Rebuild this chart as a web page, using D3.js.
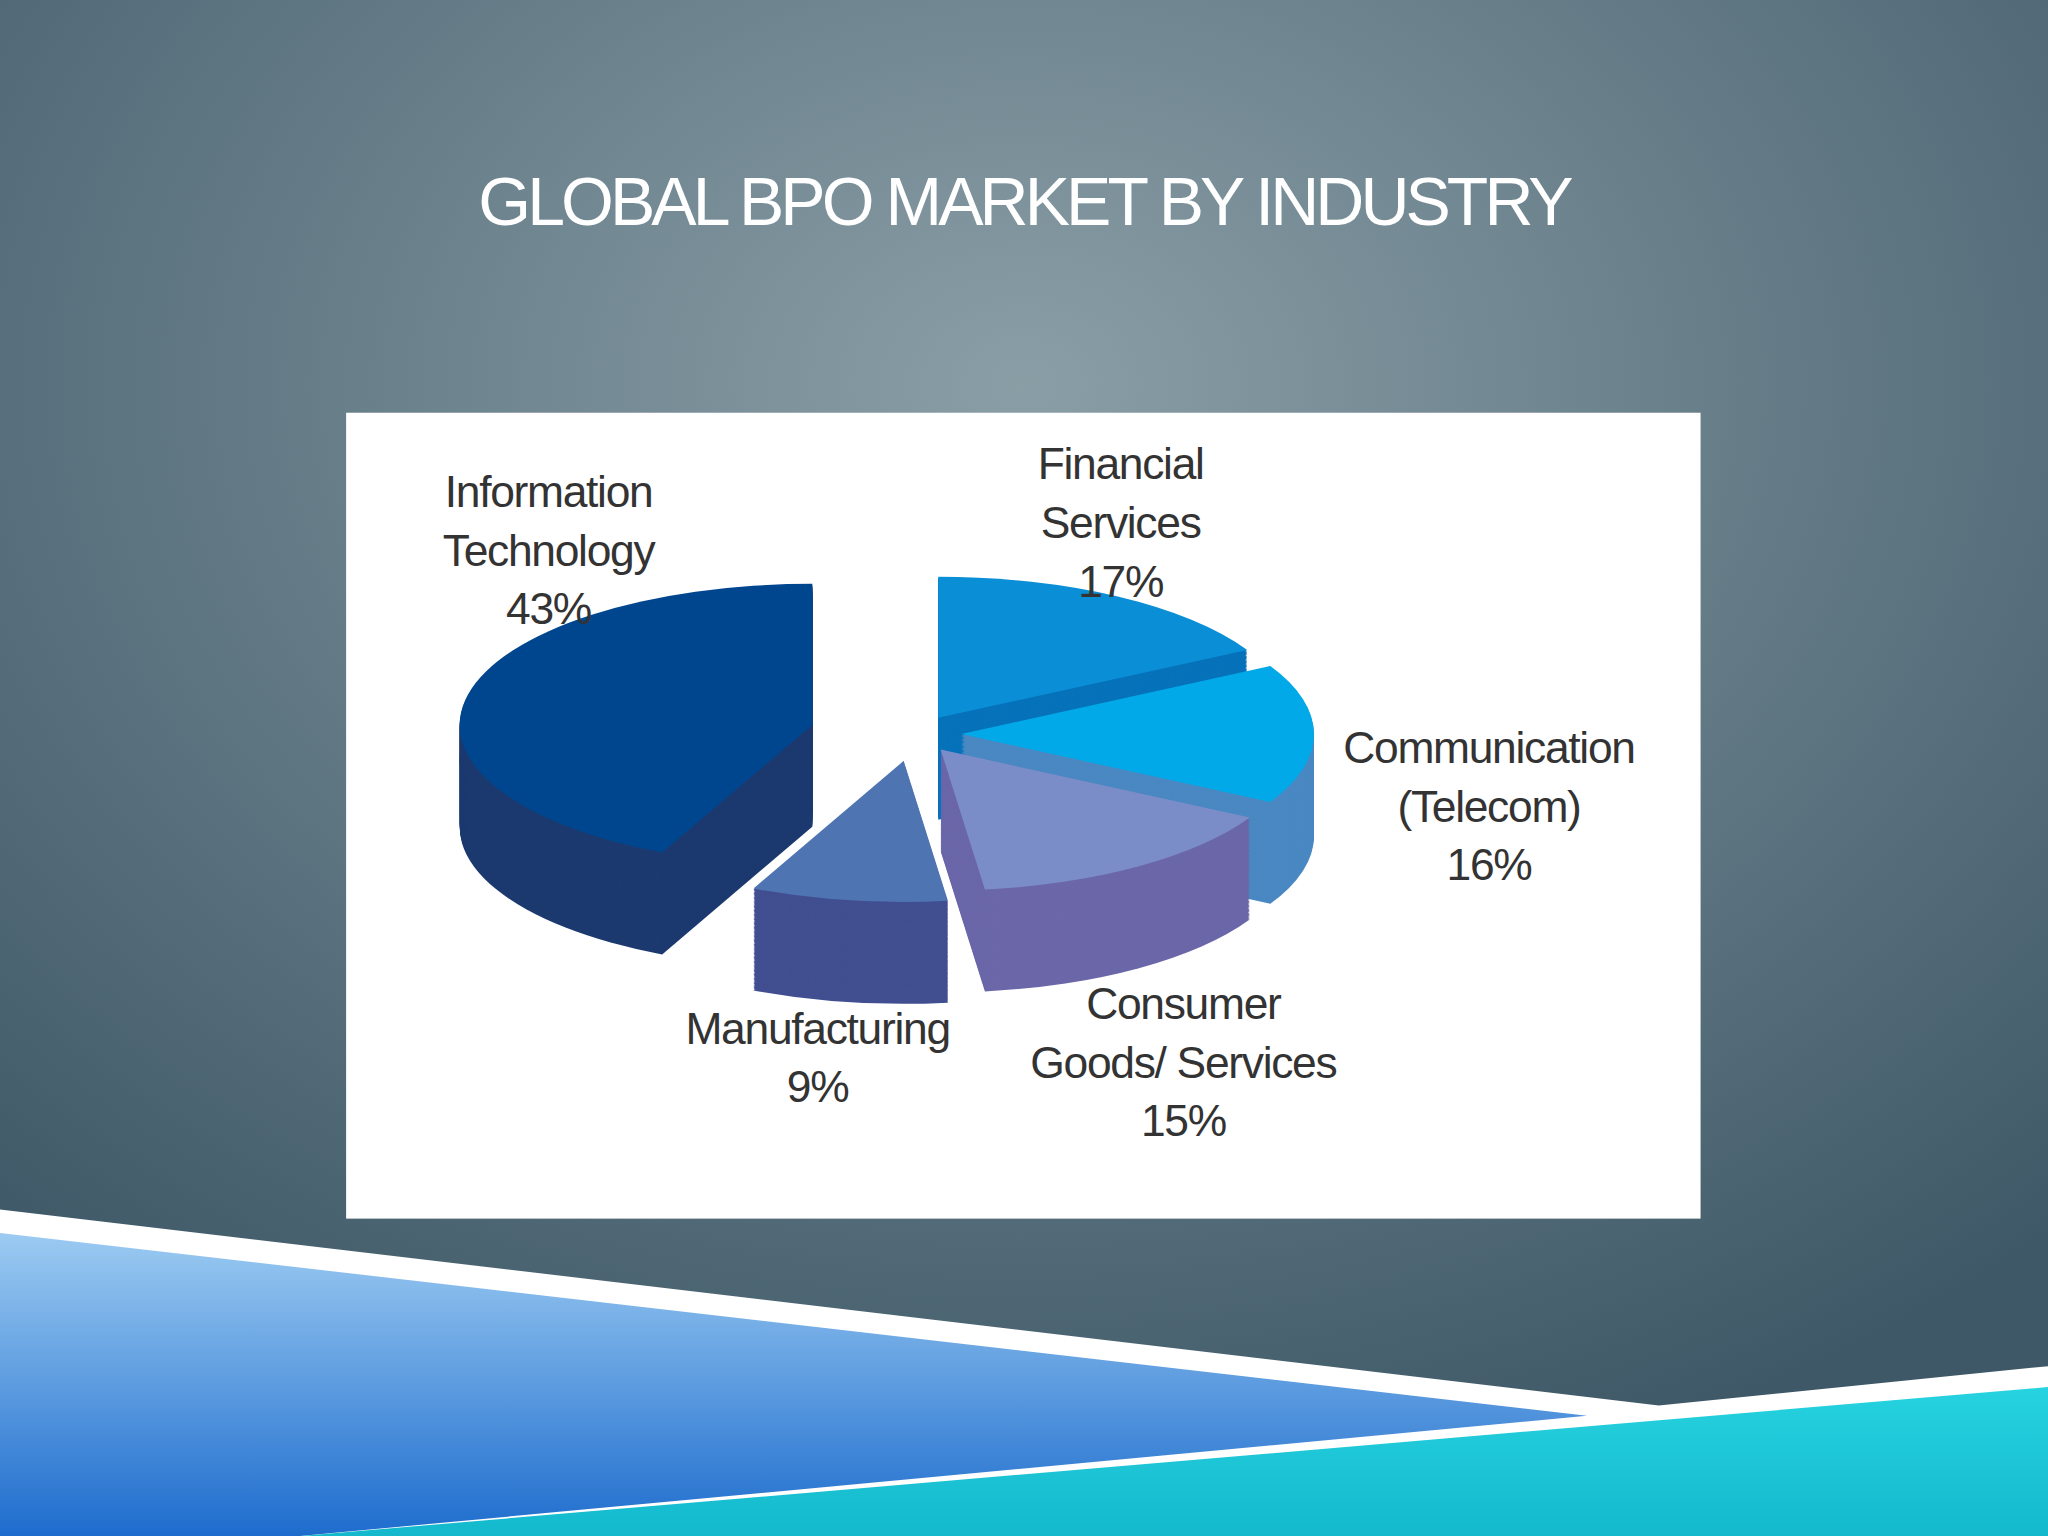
<!DOCTYPE html>
<html><head><meta charset="utf-8">
<script src="https://cdn.jsdelivr.net/npm/d3@7"></script>
<style>body{margin:0;overflow:hidden}</style></head>
<body><script>
const title = "GLOBAL BPO MARKET BY INDUSTRY";
const categories = ["Financial Services","Communication (Telecom)","Consumer Goods/ Services","Manufacturing","Information Technology"];
const values = [17,16,15,9,43];
const labelLines = [["Financial","Services","17%"],["Communication","(Telecom)","16%"],["Consumer","Goods/ Services","15%"],["Manufacturing","9%"],["Information","Technology","43%"]];
const topColors = ["#0a8ed6","#02a9e8","#7b8dc9","#4f74b2","#00468f"];
const sideColors = ["#0672ba","#4a88c2","#6b67a9","#414f91","#1c3a6f"];
const explodes = [36,36,36,52,80];
const labelPos = [[858,355],[1140,572],[906,768],[626,787],[420,376]];

const svg = d3.select("body").append("svg").attr("width",2048).attr("height",1536).attr("viewBox","0 0 1568 1176");
const defs = svg.append("defs");
const rg = defs.append("radialGradient").attr("id","bg").attr("cx","50%").attr("cy","25%").attr("r","75%");
rg.append("stop").attr("offset","0").attr("stop-color","#8a9ea6");
rg.append("stop").attr("offset","1").attr("stop-color","#3e5867");
svg.append("rect").attr("width",1568).attr("height",1176).attr("fill","url(#bg)");
const lg = defs.append("linearGradient").attr("id","blue").attr("x1",0).attr("y1",0).attr("x2",0).attr("y2",1);
lg.append("stop").attr("offset","0").attr("stop-color","#9ccbf2");
lg.append("stop").attr("offset","1").attr("stop-color","#1d6ccd");
const cg = defs.append("linearGradient").attr("id","cyan").attr("x1",0).attr("y1",0).attr("x2",0).attr("y2",1);
cg.append("stop").attr("offset","0").attr("stop-color","#27d3e0");
cg.append("stop").attr("offset","1").attr("stop-color","#13b8cc");

svg.append("text").attr("x",784).attr("y",172).attr("text-anchor","middle")
  .attr("font-family","Liberation Sans Narrow, Liberation Sans, sans-serif").attr("font-size",52)
  .attr("letter-spacing",-3).attr("fill","#fff").text(title);

svg.append("rect").attr("x",265).attr("y",316).attr("width",1037).attr("height",617).attr("fill","#fff");

svg.append("polygon").attr("points","0,926 1270,1076 1568,1046 1568,1176 0,1176").attr("fill","#fff");
svg.append("polygon").attr("points","0,944 1215,1084 230,1176 0,1176").attr("fill","url(#blue)");
svg.append("polygon").attr("points","1568,1062 230,1176 1568,1176").attr("fill","url(#cyan)");

const cx=700, cy=562, rx=270, ry=108, depth=78, k=ry/rx;
const pie = d3.pie().sort(null).value(d=>d)(values);
const arc = d3.arc().innerRadius(0).outerRadius(rx);
const g = svg.append("g");
const order = [4,0,1,3,2];
order.forEach(i=>{
  const p = pie[i], mid=(p.startAngle+p.endAngle)/2, e=explodes[i];
  const ox = cx+Math.sin(mid)*e, oy = cy-Math.cos(mid)*e*k;
  const sg = g.append("g");
  for(let d=depth; d>=1; d--){
    sg.append("path").attr("d",arc(p)).attr("fill",sideColors[i])
      .attr("transform",`translate(${ox},${oy+d}) scale(1,${k})`);
  }
  sg.append("path").attr("d",arc(p)).attr("fill",topColors[i])
    .attr("transform",`translate(${ox},${oy}) scale(1,${k})`);
});

labelPos.forEach((pos,i)=>{
  const t = svg.append("text").attr("text-anchor","middle").attr("font-family","Liberation Sans, Arial, sans-serif")
    .attr("font-size",34).attr("fill","#333").attr("letter-spacing",-1);
  labelLines[i].forEach((s,j)=>t.append("tspan").attr("x",pos[0]).attr("y",pos[1]+j*45+12).text(s));
});
</script></body></html>
